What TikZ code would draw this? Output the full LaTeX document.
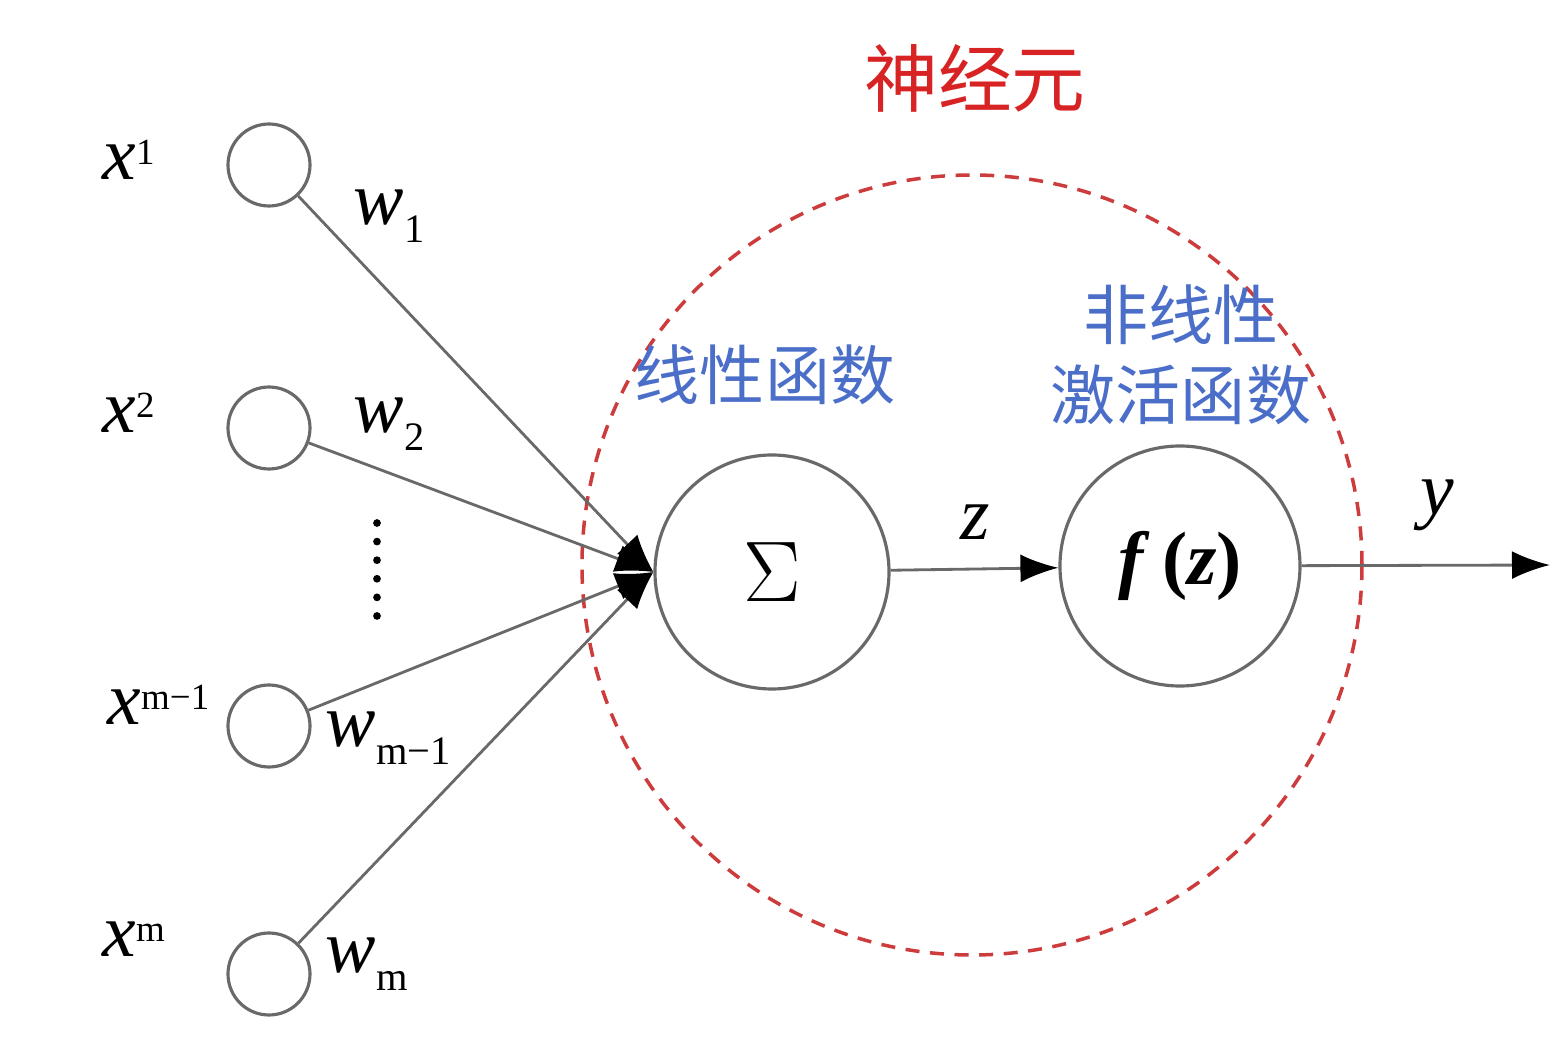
\documentclass[tikz,border=0pt]{standalone}
\usepackage{fix-cm}
\usepackage{fontspec}
\setmainfont{Liberation Serif}
\newfontfamily\cjk{Noto Sans CJK SC}
\usetikzlibrary{arrows.meta,positioning}
\definecolor{neured}{RGB}{215,35,35}
\definecolor{ringred}{RGB}{205,60,60}
\definecolor{neublue}{RGB}{75,110,200}
\definecolor{linegray}{RGB}{105,105,105}
% raised / lowered indices
\newcommand{\upidx}[1]{\raisebox{4.4pt}{\fontsize{10.5}{12}\selectfont\upshape #1}}
\newcommand{\lowidx}[1]{\raisebox{-5pt}{\fontsize{11.5}{13}\selectfont\upshape #1}}

\begin{document}
\begin{tikzpicture}[
    unit/.style={circle, draw=linegray, line width=0.9pt, inner sep=0pt},
    link/.style={linegray, line width=0.8pt, -{Latex[length=3.8mm,width=2.8mm,color=black]}},
    lbl/.style={font=\fontsize{21.5}{26}\selectfont\itshape, anchor=base west, inner sep=0pt},
    cn/.style={font=\cjk\fontsize{18.5}{22.7}\selectfont, text=neublue, align=center}]
            \useasboundingbox (0,0) rectangle (15.66,10.5);

            % Neuron boundary
            \draw[ringred, line width=1pt, dash pattern=on 4pt off 3pt] (9.72,4.85) circle (3.9);
            \node[font=\cjk\fontsize{21}{26}\selectfont, text=neured] (title) at (9.75,9.72) {神经元};

            % Inputs
            \node[unit, minimum size=8.2mm] (x1) at (2.69,8.85) {};
            \node[unit, minimum size=8.2mm] (x2) at (2.69,6.22) {};
            \node[unit, minimum size=8.2mm] (xm1) at (2.69,3.24) {};
            \node[unit, minimum size=8.2mm] (xm) at (2.69,0.76) {};
            \node[lbl] (lx1) at (1.02,8.70) {x\upidx{1}};
            \node[lbl] (lx2) at (1.02,6.17) {x\upidx{2}};
            \node[lbl] (lxm1) at (1.07,3.25) {x\upidx{m−1}};
            \node[lbl] (lxm) at (1.02,0.93) {x\upidx{m}};
            \draw[black, line width=2.2pt, line cap=round, dash pattern=on 0pt off 5.29pt] (3.77,5.27) -- (3.77,4.34);

            % Summation and activation
            \node[unit, minimum size=23.4mm, font=\fontsize{24.5}{28}\selectfont] (sum) at (7.72,4.78) {$\Sigma$};
            \node[unit, minimum size=24mm, font=\fontsize{21.5}{26}\selectfont\bfseries] (act) at (11.80,4.84) {\textit{f}\,(\textit{z})};
            \node[cn] (lin) at (7.65,6.75) {线性函数};
            \node[cn] (nonlin) at (11.81,6.95) {非线性\\激活函数};

            % Weighted links
            \draw[link] (x1) -- (sum.west);
            \draw[link] (x2) -- (sum.west);
            \draw[link] (xm1) -- (sum.west);
            \draw[link] (xm) -- (sum.west);
            \node[lbl] (w1) at (3.53,8.25) {w\lowidx{1}};
            \node[lbl] (w2) at (3.53,6.17) {w\lowidx{2}};
            \node[lbl] (wm1) at (3.25,3.03) {w\lowidx{m−1}};
            \node[lbl] (wm) at (3.25,0.77) {w\lowidx{m}};

            % Output
            \coordinate (out) at (15.50,4.85);
            \draw[link] (sum) -- (act);
            \draw[link] (act) -- (out);
            \node[lbl] (z) at (9.60,5.10) {z};
            \node[lbl] (y) at (14.20,5.35) {y};
\end{tikzpicture}
\end{document}
